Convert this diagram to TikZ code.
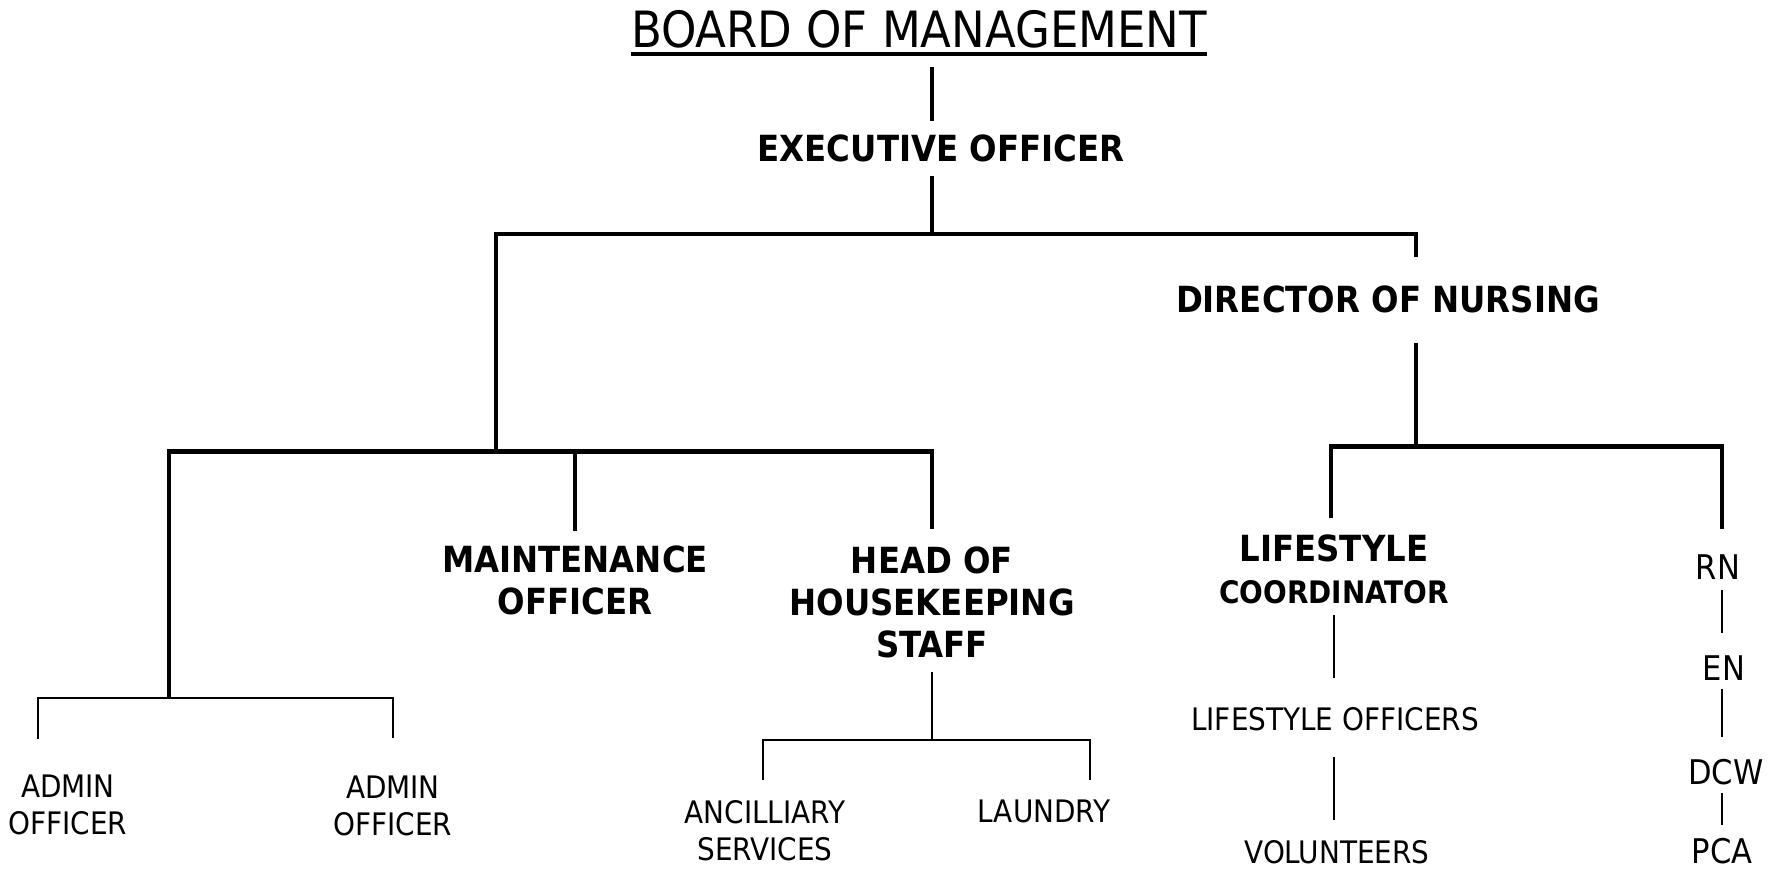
\documentclass[tikz,border=0pt]{standalone}
\usepackage{fontspec}
\setmainfont{DejaVu Sans Condensed}
\usepackage{tikz}

\begin{document}
\begin{tikzpicture}[x=1pt,y=-1pt]
\tikzstyle{every node}+=[inner sep=0pt]
\tikzstyle{boss}=[font=\fontsize{36}{42}\selectfont\bfseries, align=center]
\tikzstyle{staff}=[font=\fontsize{31}{37}\selectfont, align=center]
\tikzstyle{grade}=[font=\fontsize{34}{40}\selectfont]
\tikzstyle{main}=[black, line width=3.6pt]
\tikzstyle{heavy}=[black, line width=5pt]
\tikzstyle{fine}=[black, line width=1.8pt]
\useasboundingbox (0,0) rectangle (1775,869);
% top of the chart
\node (brd) at (919,29) {\fontsize{50}{60}\selectfont BOARD OF MANAGEMENT};
\draw [black, line width=3.4pt] ([yshift=-6pt]brd.south west) -- ([yshift=-6pt]brd.south east);
\node [boss] (exec) at (941,148) {EXECUTIVE OFFICER};
\node [boss] (dir) at (1388,299) {DIRECTOR OF NURSING};
% second row
\node [boss] (mo) at (575,580) {MAINTENANCE\\OFFICER};
\node [boss] (hk) at (932,602) {HEAD OF\\HOUSEKEEPING\\STAFF};
\node [boss] (lc) at (1334,569) {LIFESTYLE\\{\fontsize{31}{37}\selectfont COORDINATOR}};
\node [grade] (rn) at (1718,567) {RN};
\node [grade] (en) at (1724,668) {EN};
\node [grade] (dcw) at (1726,772) {DCW};
\node [grade] (pca) at (1722,851) {PCA};
% bottom row
\node [staff] (ad1) at (68,805) {ADMIN\\OFFICER};
\node [staff] (ad2) at (393,806) {ADMIN\\OFFICER};
\node [staff] (anc) at (765,831) {ANCILLIARY\\SERVICES};
\node [staff] (lau) at (1044,811) {LAUNDRY};
\node [staff] (lo) at (1335,719) {LIFESTYLE OFFICERS};
\node [staff] (vol) at (1337,852) {VOLUNTEERS};
% branch points
\coordinate (eb) at (932,234);
\coordinate (fb) at (496,451);
\coordinate (nb) at (1416,446);
\coordinate (gc) at (1722,446);
\coordinate (ab) at (169,698);
\coordinate (hb) at (932,740);
% connectors
\draw [main] ([yshift=-19pt]brd.south -| eb) -- ([yshift=13pt]exec.north -| eb);
\draw [main] ([yshift=-14pt]exec.south -| eb) -- (eb);
\draw [main] (fb) |- (eb) -| ([yshift=28pt]dir.north -| nb);
\draw [main] ([yshift=-30pt]dir.south -| nb) -- (nb);
\draw [main] ([xshift=-3pt,yshift=16pt]lc.north) |- (nb) -| ([yshift=25pt]rn.north -| gc);
\draw [heavy] ([xshift=-3pt]lc.north |- nb) -- (gc);
\draw [main] (ab) |- (fb) -| ([yshift=17pt]hk.north);
\draw [heavy] (ab |- fb) -- (fb -| hk);
\draw [main] (fb -| mo) -- ([yshift=14pt]mo.north);
\draw [fine] ([yshift=-14pt]hk.south) -- (hb);
\draw [fine] ([xshift=-2pt,yshift=21pt]anc.north) |- (hb) -| ([xshift=46pt,yshift=19pt]lau.north);
\draw [fine] ([xshift=-30pt,yshift=36pt]ad1.north) |- (ab) -| ([yshift=38pt]ad2.north);
\draw [fine] ([yshift=-11pt]lc.south) -- ([yshift=29pt]lo.north -| lc);
\draw [fine] ([yshift=-26pt]lo.south -| lc) -- ([yshift=20pt]vol.north -| lc);
\draw [fine] ([yshift=-10pt]rn.south -| gc) -- ([yshift=22pt]en.north -| gc);
\draw [fine] ([yshift=-8pt]en.south -| gc) -- ([yshift=22pt]dcw.north -| gc);
\draw [fine] ([yshift=-8pt]dcw.south -| gc) -- ([yshift=13pt]pca.north -| gc);
\end{tikzpicture}
\end{document}
